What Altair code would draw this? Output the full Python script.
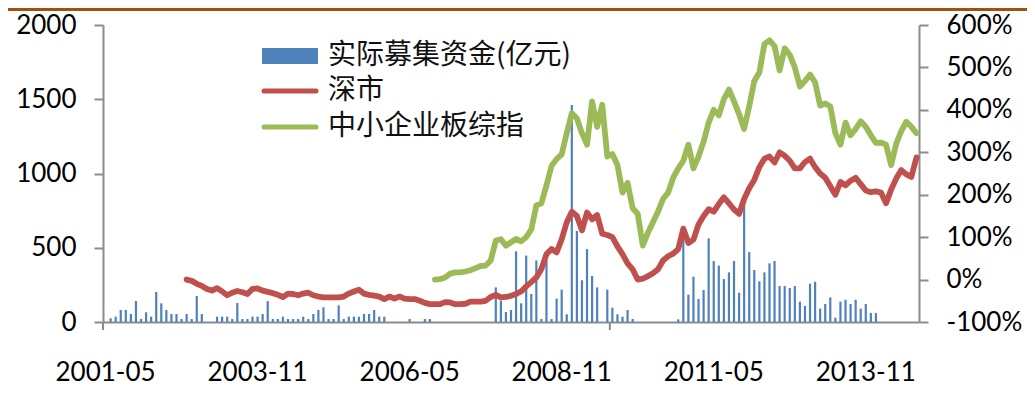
import altair as alt
import pandas as pd

# ---------------- data ----------------
months = []
y, m = 2001, 5
for _ in range(161):
    months.append(f"{y}-{m:02d}")
    m += 1
    if m > 12:
        m = 1
        y += 1

x_tick_labels = ["2001-05", "2003-11", "2006-05", "2008-11", "2011-05", "2013-11"]
x_tick_marks = ["2001-05", "2009-09"]

# 实际募集资金(亿元), monthly
funds = [
    0, 25, 36, 81, 81, 54, 141, 20, 65, 36,
    202, 126, 81, 54, 54, 20, 54, 20, 175, 54,
    0, 0, 36, 36, 36, 20, 128, 20, 20, 36,
    36, 54, 141, 20, 20, 36, 20, 20, 20, 36,
    20, 54, 81, 99, 20, 20, 112, 20, 36, 36,
    36, 54, 54, 81, 36, 36, 0, 0, 0, 0,
    20, 0, 0, 20, 20, 0, 0, 0, 0, 0,
    0, 0, 0, 0, 0, 0, 0, 233, 144, 67,
    81, 476, 126, 447, 189, 415, 20, 415, 20, 157,
    218, 52, 1461, 613, 281, 491, 310, 233, 0, 218,
    97, 52, 36, 81, 20, 0, 0, 0, 0, 0,
    0, 0, 0, 18, 570, 184, 305, 155, 215, 563,
    411, 379, 289, 334, 411, 197, 830, 471, 350, 274,
    334, 395, 411, 242, 242, 229, 242, 137, 108, 258,
    271, 90, 121, 166, 29, 137, 150, 121, 150, 90,
    121, 61, 61, 0, 0, 0, 0, 0, 0, 0,
    0,
]

# 深市 (%), from month index 16
sz_start = 16
sz = [
    0, -3, -10, -15, -22, -26, -20, -28, -37, -31,
    -27, -30, -34, -22, -21, -26, -29, -32, -36, -41,
    -33, -34, -37, -33, -31, -37, -40, -42, -42, -42,
    -42, -40, -33, -28, -24, -33, -36, -38, -40, -46,
    -40, -45, -40, -45, -46, -46, -50, -55, -58, -58,
    -58, -53, -54, -58, -58, -57, -52, -52, -52, -50,
    -41, -36, -42, -41, -38, -34, -28, -16, -6, 5,
    25, 60, 72, 64, 95, 135, 160, 150, 116, 158,
    142, 152, 108, 105, 100, 78, 60, 38, 24, 0,
    2, 8, 15, 24, 45, 55, 61, 72, 120, 86,
    94, 130, 150, 166, 160, 178, 194, 180, 165, 155,
    190, 215, 235, 265, 285, 290, 276, 300, 292, 280,
    262, 262, 277, 285, 265, 250, 240, 220, 200, 230,
    222, 233, 240, 225, 210, 206, 208, 205, 180, 212,
    238, 258, 248, 242, 288,
]

# 中小企业板综指 (%), from month index 65
sme_start = 65
sme = [
    0, 1, 5, 14, 17, 17, 19, 22, 27, 32,
    33, 45, 92, 95, 80, 88, 96, 90, 100, 118,
    175, 180, 222, 268, 284, 295, 345, 392, 380, 345,
    318, 420, 360, 412, 290, 296, 270, 205, 228, 168,
    155, 80, 110, 135, 160, 190, 205, 240, 262, 280,
    318, 262, 290, 325, 370, 400, 387, 425, 448, 420,
    390, 355, 408, 468, 488, 555, 564, 550, 493, 545,
    530, 500, 455, 468, 483, 465, 410, 415, 408, 345,
    318, 370, 340, 355, 373, 360, 340, 322, 323, 318,
    270, 320, 350, 372, 360, 345,
]

legend_labels = ["实际募集资金(亿元)", "深市", "中小企业板综指"]
series_names = ["深市", "中小企业板综指"]

# ---------------- tables ----------------
bar_df = pd.DataFrame({"month": months, "funds": funds})
line_rows = []
for i, v in enumerate(sz):
    line_rows.append({"month": months[sz_start + i], "pct": v, "series": series_names[0]})
for i, v in enumerate(sme):
    line_rows.append({"month": months[sme_start + i], "pct": v, "series": series_names[1]})
line_df = pd.DataFrame(line_rows)

W, H = 816, 297
GRAY = "#8C8C8C"
NUM_FONT = "Lato"
CJK_FONT = "Noto Sans CJK SC"
BLUE, RED, GREEN = "#4F81BD", "#C0504D", "#9BBB59"

xscale = alt.Scale(domain=months, paddingInner=0, paddingOuter=0)

x_enc = alt.X(
    "month:N",
    scale=xscale,
    sort=months,
    axis=alt.Axis(
        values=x_tick_labels,
        labelAngle=0,
        ticks=False,
        domainColor=GRAY,
        domainWidth=2,
        labelFont=NUM_FONT,
        labelFontSize=26,
        labelColor="#000000",
        labelPadding=37,
        title=None,
        grid=False,
    ),
)

bars = alt.Chart(bar_df).mark_bar(size=2.2, color=BLUE).encode(
    x=x_enc,
    y=alt.Y(
        "funds:Q",
        scale=alt.Scale(domain=[0, 2000], nice=False),
        axis=alt.Axis(
            values=[0, 500, 1000, 1500, 2000],
            format="d",
            orient="left",
            domainColor=GRAY,
            domainWidth=2,
            tickColor=GRAY,
            tickWidth=2,
            tickSize=9,
            labelFont=NUM_FONT,
            labelFontSize=26,
            labelColor="#000000",
            labelPadding=18,
            title=None,
            grid=False,
        ),
    ),
)

lines = alt.Chart(line_df).mark_line(strokeWidth=5.8, strokeCap="round", strokeJoin="round").encode(
    x=alt.X("month:N", scale=xscale, sort=months),
    y=alt.Y(
        "pct:Q",
        scale=alt.Scale(domain=[-100, 600], nice=False),
        axis=alt.Axis(
            values=[-100, 0, 100, 200, 300, 400, 500, 600],
            orient="right",
            labelExpr="datum.value + '%'",
            domainColor=GRAY,
            domainWidth=2,
            tickColor=GRAY,
            tickWidth=2,
            tickSize=9,
            labelFont=NUM_FONT,
            labelFontSize=26,
            labelColor="#000000",
            labelPadding=18,
            title=None,
            grid=False,
        ),
    ),
    color=alt.Color("series:N", scale=alt.Scale(domain=series_names, range=[RED, GREEN]), legend=None),
    order=alt.Order("month:N"),
)

xticks = alt.Chart(pd.DataFrame({"month": x_tick_marks})).mark_rule(color=GRAY, strokeWidth=2).encode(
    x=alt.X("month:N", scale=xscale, sort=months, bandPosition=0),
    y=alt.value(H),
    y2=alt.value(H + 8),
)

leg_rect = alt.Chart(pd.DataFrame({"label": legend_labels[:1]})).mark_rect(color=BLUE).encode(
    x=alt.value(159), x2=alt.value(215), y=alt.value(23), y2=alt.value(39)
)
leg_red = alt.Chart(pd.DataFrame({"label": legend_labels[1:2]})).mark_rule(
    color=RED, strokeWidth=5, strokeCap="round"
).encode(x=alt.value(161), x2=alt.value(213), y=alt.value(66))
leg_green = alt.Chart(pd.DataFrame({"label": legend_labels[2:3]})).mark_rule(
    color=GREEN, strokeWidth=5, strokeCap="round"
).encode(x=alt.value(161), x2=alt.value(213), y=alt.value(102))

def leg_text(label, ypos):
    return alt.Chart(pd.DataFrame({"label": [label]})).mark_text(
        align="left", baseline="middle", font=CJK_FONT, fontSize=28, color="#111111"
    ).encode(x=alt.value(225), y=alt.value(ypos), text="label:N")

top_border = alt.Chart(pd.DataFrame({"label": ["border"]})).mark_rule(
    color="#A0500F", strokeWidth=3
).encode(x=alt.value(-95), x2=alt.value(W + 108), y=alt.value(-15.5))

chart = (
    alt.layer(
        bars,
        lines,
        xticks,
        leg_rect,
        leg_red,
        leg_green,
        leg_text(legend_labels[0], 31),
        leg_text(legend_labels[1], 66),
        leg_text(legend_labels[2], 102),
        top_border,
    )
    .resolve_scale(y="independent")
    .properties(
        width=W,
        height=H,
        autosize=alt.AutoSizeParams(type="none"),
        padding={"left": 95, "top": 17, "right": 108, "bottom": 63},
        background="white",
    )
    .configure_view(stroke=None)
)

chart.save("out.html", embed_options={"renderer": "svg", "actions": False})
